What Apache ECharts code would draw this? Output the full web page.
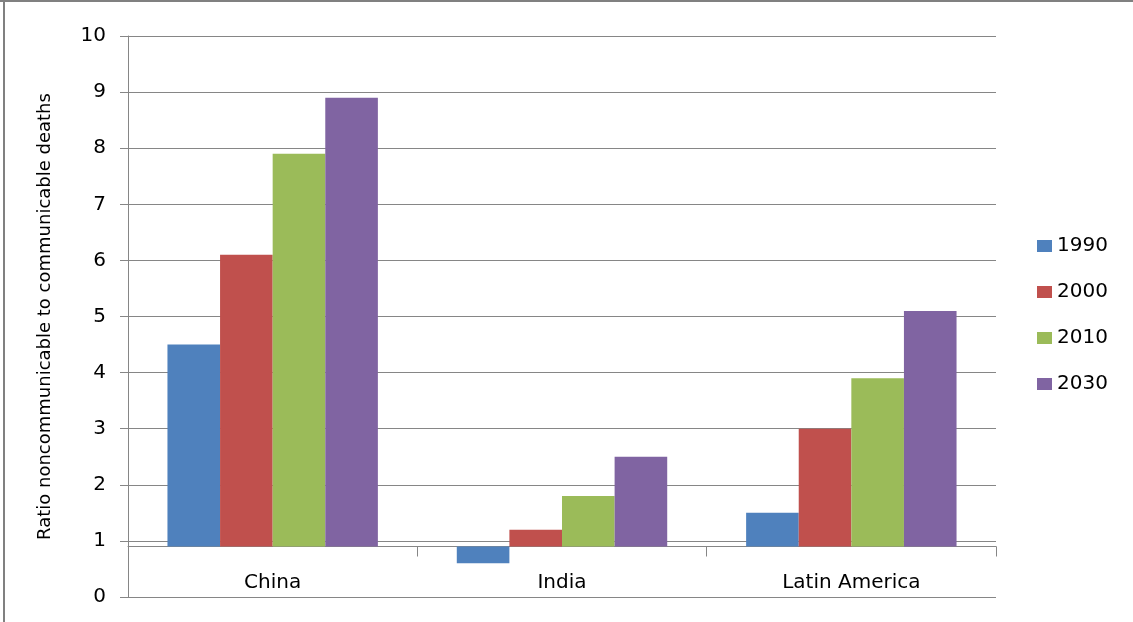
<!DOCTYPE html>
<html><head><meta charset="utf-8">
<script src="https://cdn.jsdelivr.net/npm/echarts@6/dist/echarts.min.js"></script>
<style>html,body{margin:0;padding:0;background:#fff}#c{width:1133px;height:622px}</style>
</head><body><div id="c"></div>
<script>
const categories = ['China', 'India', 'Latin America'];
const years = ['1990', '2000', '2010', '2030'];
const v1990 = [4.5, 0.6, 1.5];
const v2000 = [6.1, 1.2, 3.0];
const v2010 = [7.9, 1.8, 3.9];
const v2030 = [8.9, 2.5, 5.1];
const yMin = 0, yMax = 10, yStep = 1;
const crossValue = 0.9; // value at which the category axis crosses
const yTitle = 'Ratio noncommunicable to communicable deaths';

const colors = ['#4F81BD', '#C0504D', '#9BBB59', '#8064A2'];
const seriesValues = [v1990, v2000, v2010, v2030];
const GAP = 1.5;
const gridColor = '#868686';
const FONT = 'DejaVu Sans';

function makeRender(idx) {
  return function (params, api) {
    const c = api.value(0), v = api.value(1);
    const band = api.size([1, 0])[0];
    const n = seriesValues.length;
    const w = band / (n + GAP);
    const top = api.coord([c, v]);
    const base = api.coord([c, crossValue]);
    const x = top[0] - w * n / 2 + idx * w;
    const y = Math.min(top[1], base[1]);
    const h = Math.abs(base[1] - top[1]);
    return { type: 'rect', shape: { x: x, y: y, width: w, height: h }, style: { fill: colors[idx] } };
  };
}

const chart = echarts.init(document.getElementById('c'));
chart.setOption({
  animation: false,
  textStyle: { fontFamily: FONT },
  grid: { left: 128, top: 36, right: 137, bottom: 25, containLabel: false, outerBoundsMode: 'none' },
  legend: {
    data: years,
    orient: 'vertical',
    left: 1037, top: 236,
    itemWidth: 15, itemHeight: 12, itemGap: 26, padding: 0,
    icon: 'rect',
    textStyle: { fontSize: 20, color: '#000', fontFamily: FONT }
  },
  xAxis: {
    type: 'category',
    data: categories,
    axisLine: { onZero: true, onZeroAxisIndex: 1, lineStyle: { color: gridColor, width: 1 } },
    axisTick: { show: true, length: 10, lineStyle: { color: gridColor } },
    axisLabel: { fontSize: 20, margin: -24, color: '#000', fontFamily: FONT },
    splitLine: { show: false }
  },
  yAxis: [{
    type: 'value', min: yMin, max: yMax, interval: yStep,
    name: yTitle, nameLocation: 'middle', nameGap: 74,
    nameTextStyle: { fontSize: 18, color: '#000', fontFamily: FONT },
    axisLine: { show: true, lineStyle: { color: gridColor } },
    axisTick: { show: true, length: 8, lineStyle: { color: gridColor } },
    axisLabel: { fontSize: 20, margin: 22, color: '#000', fontFamily: FONT },
    splitLine: { show: true, lineStyle: { color: gridColor, width: 1 } }
  }, {
    type: 'value', min: yMin - crossValue, max: yMax - crossValue, show: false
  }],
  series: seriesValues.map(function (vals, i) {
    return {
      name: years[i],
      type: 'custom',
      coordinateSystem: 'cartesian2d',
      xAxisIndex: 0, yAxisIndex: 0,
      itemStyle: { color: colors[i] },
      encode: { x: 0, y: 1 },
      renderItem: makeRender(i),
      data: vals.map(function (v, k) { return [k, v]; })
    };
  }),
  graphic: [
    { type: 'line', silent: true, shape: { x1: 0, y1: 1, x2: 1133, y2: 1 }, style: { stroke: '#808080', lineWidth: 2 } },
    { type: 'line', silent: true, shape: { x1: 4, y1: 0, x2: 4, y2: 622 }, style: { stroke: '#808080', lineWidth: 2 } }
  ]
});
</script>
</body></html>
